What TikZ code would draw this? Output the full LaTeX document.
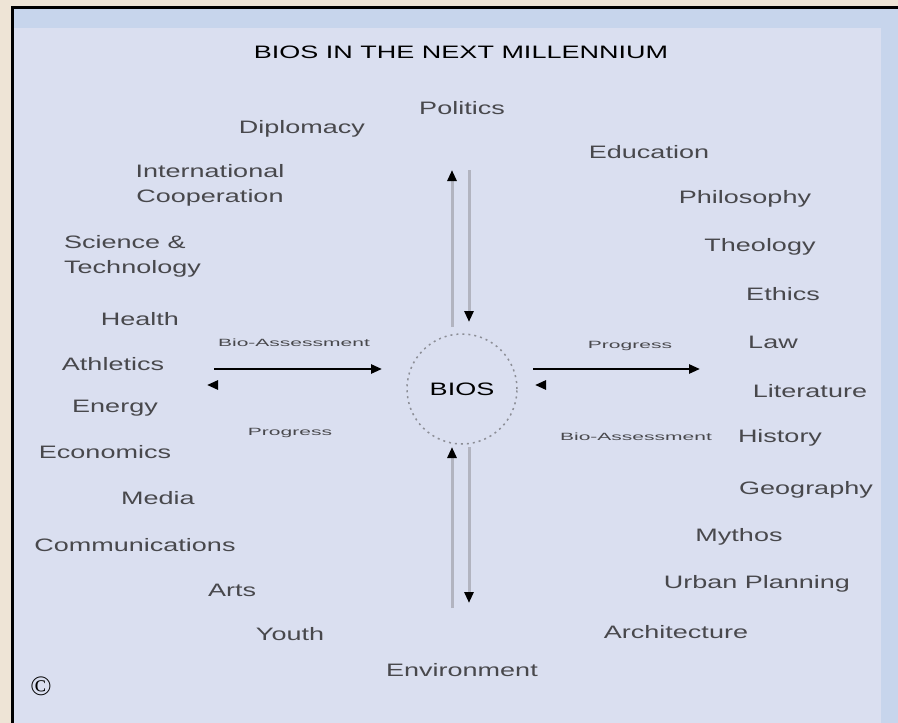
\documentclass[tikz,border=0pt]{standalone}
\usepackage{fontspec}
\setmainfont{Liberation Sans}[FakeStretch=1.5]
\newfontfamily\smallfont{Liberation Sans}[FakeStretch=2]
\newfontfamily\copyfont{Liberation Serif}
\usetikzlibrary{arrows.meta}
\definecolor{beige}{RGB}{238,228,214}
\definecolor{band}{RGB}{199,213,236}
\definecolor{panel}{RGB}{218,223,240}
\definecolor{ink}{RGB}{72,72,76}
\definecolor{rail}{RGB}{178,180,192}
\definecolor{ring}{RGB}{140,142,150}

\begin{document}
\begin{tikzpicture}[x=1pt,y=-1pt]
\tikzstyle{topic}=[text=ink, font=\fontsize{18}{25}\selectfont, inner sep=0pt]
\tikzstyle{flow}=[text=ink, font=\smallfont\fontsize{10.5}{12}\selectfont, inner sep=0pt]
\tikzstyle{tip}=[-{Triangle[length=11pt,width=9pt,color=black]}]
\tikzstyle{rails}=[tip, rail, line width=3pt]
\tikzstyle{beam}=[tip, black, line width=2.5pt]
\tikzstyle{ghost}=[tip, panel, line width=2.5pt]
\useasboundingbox (0,0) rectangle (898,723);
% frame and panels
\fill[beige] (0,0) rectangle (898,723);
\fill[band] (14,9) rectangle (898,723);
\fill[panel] (14,28) rectangle (881,723);
\draw[black, line width=3pt] (12.5,723) -- (12.5,7.5) -- (898,7.5);

\node[topic, text=black] (title) at (461,52) {BIOS IN THE NEXT MILLENNIUM};

% centre
\node[circle, draw=ring, dash pattern=on 2pt off 4pt, line width=1.5pt,
      minimum size=110pt, topic, text=black] (bios) at (462,389) {BIOS};

% left side
\node[topic] (diplomacy) at (302,129) {Diplomacy};
\node[topic, align=center] (intl) at (210,185) {International\\Cooperation};
\node[topic, align=left, anchor=west] (science) at (64,256) {Science \&\\Technology};
\node[topic] (health) at (140,319) {Health};
\node[topic] (athletics) at (113,364) {Athletics};
\node[topic] (energy) at (115,408) {Energy};
\node[topic] (economics) at (105,452) {Economics};
\node[topic] (media) at (158,498) {Media};
\node[topic] (comm) at (135,545) {Communications};
\node[topic] (arts) at (232,590) {Arts};
\node[topic] (youth) at (290,634) {Youth};

% top and bottom
\node[topic] (politics) at (462,108) {Politics};
\node[topic] (environment) at (462,670) {Environment};

% right side
\node[topic] (education) at (649,152) {Education};
\node[topic] (philosophy) at (745,199) {Philosophy};
\node[topic] (theology) at (760,247) {Theology};
\node[topic] (ethics) at (783,294) {Ethics};
\node[topic] (law) at (773,342) {Law};
\node[topic] (literature) at (810,391) {Literature};
\node[topic] (history) at (780,438) {History};
\node[topic] (geography) at (806,490) {Geography};
\node[topic] (mythos) at (739,537) {Mythos};
\node[topic] (urban) at (757,584) {Urban Planning};
\node[topic] (architecture) at (676,632) {Architecture};

% flow labels
\node[flow] (assess-l) at (294,343) {Bio-Assessment};
\node[flow] (progress-l) at (290,433) {Progress};
\node[flow] (progress-r) at (630,346) {Progress};
\node[flow] (assess-r) at (636,437) {Bio-Assessment};

\node[inner sep=0pt, text=black, font=\copyfont\fontsize{28}{30}\selectfont] (copy) at (41,686) {\copyright};

% arrow ends
\coordinate (up-a) at (452,327);  \coordinate (up-b) at (452,170);
\coordinate (dn-a) at (469,170);  \coordinate (dn-b) at (469,322);
\coordinate (lo-up-a) at (452,608); \coordinate (lo-up-b) at (452,447);
\coordinate (lo-dn-a) at (469,447); \coordinate (lo-dn-b) at (469,603);
\coordinate (lt-a) at (214,369);  \coordinate (lt-b) at (382,369);
\coordinate (lb-a) at (389,385);  \coordinate (lb-b) at (207,385);
\coordinate (rt-a) at (533,369);  \coordinate (rt-b) at (700,369);
\coordinate (rb-a) at (708,385);  \coordinate (rb-b) at (535,385);

\draw[rails] (up-a) -- (up-b);
\draw[rails] (dn-a) -- (dn-b);
\draw[rails] (lo-up-a) -- (lo-up-b);
\draw[rails] (lo-dn-a) -- (lo-dn-b);
\draw[beam] (lt-a) -- (lt-b);
\draw[ghost] (lb-a) -- (lb-b);
\draw[beam] (rt-a) -- (rt-b);
\draw[ghost] (rb-a) -- (rb-b);
\end{tikzpicture}
\end{document}
